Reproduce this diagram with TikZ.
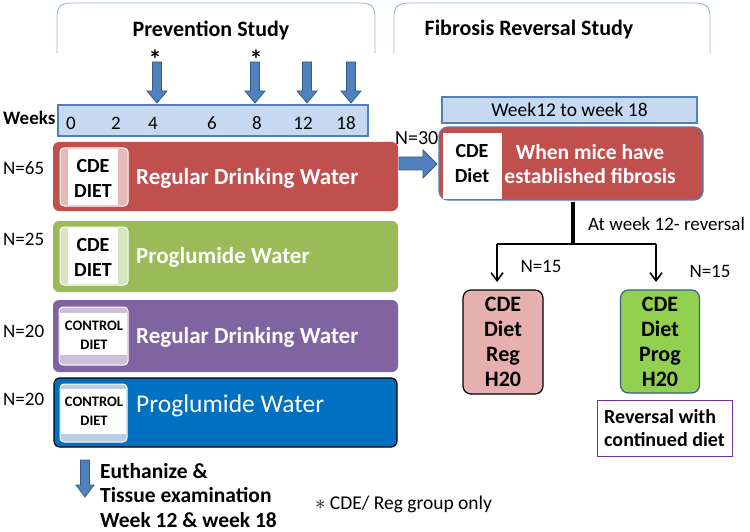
\documentclass[tikz,border=0pt]{standalone}
\usepackage{fontspec}
\setmainfont{Carlito}
\usetikzlibrary{arrows.meta}
\definecolor{cred}{HTML}{C0504D}
\definecolor{cgreen}{HTML}{9BBB59}
\definecolor{cpurple}{HTML}{8064A2}
\definecolor{cblue}{HTML}{0070C0}
\definecolor{lblue}{HTML}{C6D9F1}
\definecolor{bblue}{HTML}{4F81BD}
\definecolor{dblue}{HTML}{385D8A}
\definecolor{bandred}{HTML}{E6B9B8}
\definecolor{bandgreen}{HTML}{D7E4BD}
\definecolor{bandpurple}{HTML}{CCC1DA}
\definecolor{bandblue}{HTML}{B9CDE5}
\definecolor{pinkbox}{HTML}{E6B0AE}
\definecolor{greenbox}{HTML}{92D050}
\definecolor{cviolet}{HTML}{7030A0}
\definecolor{bracecol}{HTML}{95B3D7}
% block arrow pointing down: x, ytop, ytip, shaft half width, head half width, head length
\newcommand\blockdown[6]{%
  \filldraw[blockarr] (#1-#4,#2) -- (#1+#4,#2) -- (#1+#4,#3-#6) -- (#1+#5,#3-#6) -- (#1,#3) -- (#1-#5,#3-#6) -- (#1-#4,#3-#6) -- cycle;}
\begin{document}
\begin{tikzpicture}[x=1pt,y=-1pt,
  blockarr/.style={draw=dblue, fill=bblue, line width=0.8pt, line join=miter},
  groupbox/.style={rounded corners=6pt},
  lbl/.style={font=\fontsize{19}{22}\selectfont, inner sep=0pt},
  blbl/.style={font=\bfseries\fontsize{19}{22}\selectfont, inner sep=0pt},
  bigw/.style={font=\bfseries\fontsize{23}{26}\selectfont, text=white, inner sep=0pt, anchor=west},
  diet/.style={font=\bfseries\fontsize{20}{25}\selectfont, align=center, inner sep=0pt},
  ctrl/.style={font=\bfseries\fontsize{14.5}{19}\selectfont, align=center, inner sep=0pt},
  smallbox/.style={rounded corners=8pt, line width=1.2pt, minimum width=80pt, minimum height=104pt, font=\bfseries\fontsize{22}{25}\selectfont, align=center, inner sep=0pt}
]
\useasboundingbox (0,0) rectangle (750,532);
% braces
\draw[bracecol, line width=0.8pt] (57,53) -- (57,16) .. controls (57,6) and (62,3) .. (72,3) -- (360,3) .. controls (370,3) and (375,6) .. (375,16) -- (375,53);
\draw[bracecol, line width=0.8pt] (394,53) -- (394,16) .. controls (394,6) and (399,3) .. (409,3) -- (695,3) .. controls (705,3) and (710,6) .. (710,16) -- (710,53);
\node[blbl, font=\bfseries\fontsize{22}{24}\selectfont] (prev) at (211,30) {Prevention Study};
\node[blbl, font=\bfseries\fontsize{22}{24}\selectfont] (fib) at (529,30) {Fibrosis Reversal Study};
% stars and arrows
\node[blbl, font=\bfseries\fontsize{26}{26}\selectfont] (s1) at (155,59) {*};
\node[blbl, font=\bfseries\fontsize{26}{26}\selectfont] (s2) at (256,59) {*};
\blockdown{157}{62}{103}{4.5}{10}{12}
\blockdown{255}{62}{103}{4.5}{10}{12}
\blockdown{307}{62}{103}{4.5}{10}{12}
\blockdown{351}{62}{103}{4.5}{10}{12}
% weeks bar
\node[draw=bblue, fill=lblue, line width=1.2pt, minimum width=310pt, minimum height=31pt, inner sep=0pt] (weeks) at (213,120.5) {};
\node[blbl, anchor=west] (wk) at (3,118) {Weeks};
\foreach \n/\x in {0/71,2/116,4/153,6/212,8/257,12/303,18/346}
  \node[lbl] (w\n) at (\x,123) {\n};
% group boxes
\fill[cred, groupbox] (53,142) rectangle (398,211);
\fill[cgreen, groupbox] (53,221) rectangle (398,292);
\fill[cpurple, groupbox] (53,300) rectangle (398,372);
\draw[fill=cblue, draw=black, line width=1.2pt, groupbox] (54,378) rectangle (397,447);
% inner boxes red/green: side bands
\fill[bandred, rounded corners=4pt] (60,148) rectangle (128,206);
\fill[white] (68,149) rectangle (118,205);
\draw[white, line width=1pt, rounded corners=4pt] (60,148) rectangle (128,206);
\fill[bandgreen, rounded corners=4pt] (60,227) rectangle (128,285);
\fill[white] (68,228) rectangle (118,284);
\draw[white, line width=1pt, rounded corners=4pt] (60,227) rectangle (128,285);
% inner boxes purple/blue: top/bottom bands
\fill[bandpurple, rounded corners=4pt] (59,307) rectangle (128,365);
\fill[white] (60,313) rectangle (127,355);
\draw[white, line width=1pt, rounded corners=4pt] (59,307) rectangle (128,365);
\fill[bandblue, rounded corners=4pt] (60,384) rectangle (127,442);
\fill[white] (61,389) rectangle (126,434);
\draw[white, line width=1pt, rounded corners=4pt] (60,384) rectangle (127,442);
\node[diet] (d1) at (93,178) {CDE\\DIET};
\node[diet] (d2) at (93,257) {CDE\\DIET};
\node[ctrl] (d3) at (94,335) {CONTROL\\DIET};
\node[ctrl] (d4) at (94,411) {CONTROL\\DIET};
\node[bigw] (g1) at (136,178) {Regular Drinking Water};
\node[bigw] (g2) at (136,257) {Proglumide Water};
\node[bigw] (g3) at (136,337) {Regular Drinking Water};
\node[bigw, font=\fontsize{25.5}{28}\selectfont] (g4) at (136,406) {Proglumide Water};
\node[lbl, anchor=west] (n1) at (3,168) {N=65};
\node[lbl, anchor=west] (n2) at (3,239) {N=25};
\node[lbl, anchor=west] (n3) at (3,331) {N=20};
\node[lbl, anchor=west] (n4) at (3,399) {N=20};
% bottom
\blockdown{85}{460}{497}{4.5}{9}{12}
\node[blbl, anchor=west, align=left, font=\bfseries\fontsize{21.5}{24.5}\selectfont] (eu) at (100,495.5) {Euthanize \&\\Tissue examination\\Week 12 \& week 18};
\node[lbl, font=\fontsize{19.5}{22}\selectfont, anchor=west] (note) at (315,504) {$\ast$ CDE/ Reg group only};
% right side
\node[draw=bblue, fill=lblue, line width=1.2pt, minimum width=255pt, minimum height=26pt, inner sep=0pt, lbl, font=\fontsize{19.5}{22}\selectfont] (wk2) at (569.5,110) {Week12 to week 18};
\node[lbl, font=\fontsize{20}{22}\selectfont, anchor=west] (n30) at (395,138) {N=30};
\draw[draw=bblue, fill=cred, line width=1.2pt, rounded corners=9pt] (439,127) rectangle (703,200);
\fill[white] (443,133) rectangle (502,199);
\node[diet] (cd) at (472,164) {CDE\\Diet};
\node[diet, text=white, font=\bfseries\fontsize{21.5}{24}\selectfont] (mice) at (590,164) {When mice have\\established fibrosis};
\filldraw[blockarr] (399,157) -- (423,157) -- (423,150) -- (437,164) -- (423,178) -- (423,170) -- (399,170) -- cycle;
% split
\coordinate (top) at (573,202);
\coordinate (mid) at (573,244);
\coordinate (lj) at (497,244);
\coordinate (rj) at (656,244);
\node[smallbox, draw=black, fill=pinkbox] (pk) at (503,342) {CDE\\Diet\\Reg\\H20};
\node[smallbox, draw=dblue, fill=greenbox, minimum width=79pt, minimum height=103pt] (gk) at (660,341.5) {CDE\\Diet\\Prog\\H20};
\draw[line width=4pt] (top) -- (mid);
\draw[line width=1.6pt] (lj) -- (rj);
\draw[line width=1.6pt, -{Straight Barb[length=8pt,width=12pt]}] (lj) -- (497,282);
\draw[line width=1.6pt, -{Straight Barb[length=8pt,width=12pt]}] (rj) -- (656,282);
\node[lbl, anchor=west] (atw) at (588,224) {At week 12- reversal};
\node[lbl] (n15a) at (541,266) {N=15};
\node[lbl] (n15b) at (710,271) {N=15};
\node[draw=cviolet, line width=1pt, minimum width=135pt, minimum height=56pt, align=left, font=\bfseries\fontsize{20}{23}\selectfont, inner sep=0pt] (rev) at (664.5,428) {Reversal with\\continued diet};
\end{tikzpicture}
\end{document}
